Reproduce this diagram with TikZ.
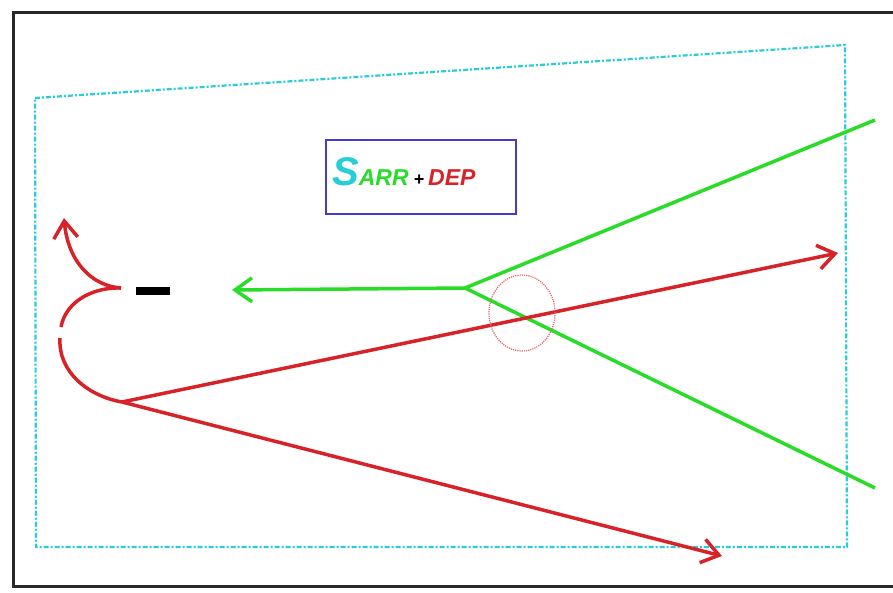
\documentclass[tikz,border=0pt]{standalone}
\usepackage{fontspec}
\setmainfont{Liberation Sans}
\usetikzlibrary{arrows.meta}
\definecolor{cyanline}{RGB}{40,205,215}
\definecolor{greenline}{RGB}{40,220,40}
\definecolor{redline}{RGB}{215,35,40}
\definecolor{boxblue}{RGB}{70,60,200}
\definecolor{framegray}{RGB}{40,40,40}
\tikzset{
  frameline/.style={draw=framegray, line width=3pt},
  cyanframe/.style={draw=cyanline, line width=2.2pt, dash pattern=on 5pt off 2pt on 2pt off 2pt},
  redpath/.style={draw=redline, line width=3.5pt},
  greenpath/.style={draw=greenline, line width=3.5pt},
  barb/.style={-{Straight Barb[length=17pt,width=24pt,line width=3.5pt]}},
  labelbox/.style={draw=boxblue, line width=2.2pt, minimum width=190pt, minimum height=74pt, inner sep=0pt},
}
\begin{document}
\begin{tikzpicture}[x=1pt,y=-1pt]
\useasboundingbox (0,0) rectangle (893,592);
\fill[white] (0,0) rectangle (893,592);
% outer frame (right side cut off)
\draw[frameline] (896,12) -- (13,12) -- (13,586) -- (896,586);
% cyan dash-dot quadrilateral
\draw[cyanframe] (35,98) -- (845,45) -- (847,547) -- (36,547) -- cycle;
% label box
\node[labelbox] (lbl) at (421,177) {};
\node[anchor=base west, inner sep=0pt] (txt) at (332,185)
  {\bfseries\itshape\textcolor{cyanline}{\fontsize{40}{40}\selectfont S}\textcolor{greenline}{\fontsize{23}{23}\selectfont ARR}\hspace{5pt}\textcolor{black}{\fontsize{18}{18}\selectfont +}\hspace{4pt}\textcolor{redline}{\fontsize{23}{23}\selectfont DEP}};
% coordinates
\coordinate (g) at (465,288);
\coordinate (gl) at (232,290);
\coordinate (gu) at (875,120);
\coordinate (gd) at (875,488);
\coordinate (r) at (122,402);
\coordinate (ru) at (838,253);
\coordinate (rd) at (722,556);
\coordinate (rgap1) at (60,338);
\coordinate (rgap2) at (61,327);
\coordinate (cusp) at (121,288);
\coordinate (rtop) at (64,218);
% green lines
\draw[greenpath, barb] (g) -- (gl);
\draw[greenpath] (g) -- (gu);
\draw[greenpath] (g) -- (gd);
% red lines
\draw[redpath, barb] (r) -- (ru);
\draw[redpath, barb] (r) -- (rd);
\draw[redpath] (r) .. controls (88,396) and (58,372) .. (rgap1);
\draw[redpath] (rgap2) .. controls (66,300) and (95,287) .. (cusp);
\draw[redpath, barb] (cusp) .. controls (92,286) and (68,262) .. (rtop);
% dotted red ellipse
\draw[redline!70, line width=1.2pt, densely dotted] (522,313) ellipse [x radius=33, y radius=38];
% black dash
\node[fill=black, minimum width=34pt, minimum height=8pt, inner sep=0pt] (dash) at (153,291) {};
\end{tikzpicture}
\end{document}
